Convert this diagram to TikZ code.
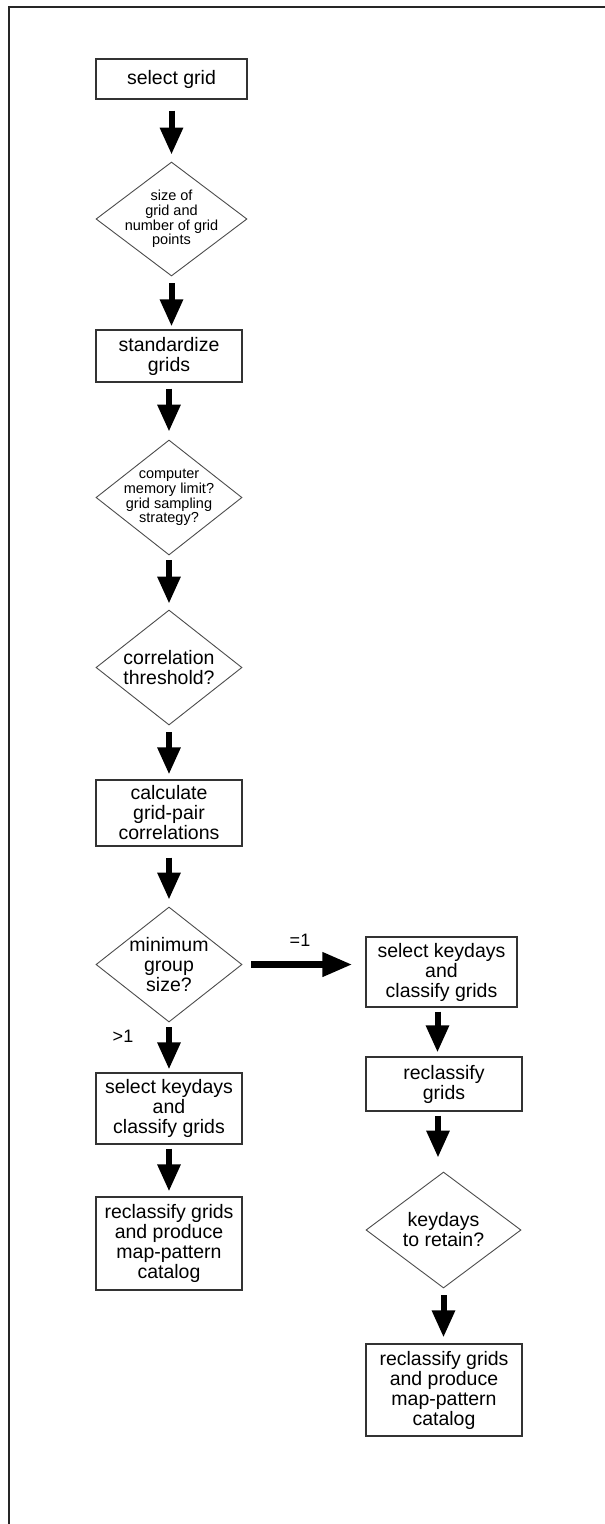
\documentclass[tikz,border=0pt]{standalone}
\usepackage{fontspec}
\setmainfont{Liberation Sans}
\usetikzlibrary{shapes.geometric,arrows.meta}
\begin{document}
\begin{tikzpicture}[x=1pt,y=-1pt,
  box/.style={draw=black!80,line width=1.3pt,rectangle,inner sep=0pt,align=center,
    font=\fontsize{19.5}{20}\selectfont},
  dia/.style={draw=black!70,line width=0.9pt,diamond,inner sep=0pt},
  dtxt/.style={font=\fontsize{19.5}{20}\selectfont,align=center},
  dsmall/.style={font=\fontsize{14.5}{14.8}\selectfont,align=center},
  bigarrow/.style={line width=6pt,-{Triangle[length=27pt,width=22pt]}},
  harrow/.style={line width=7pt,-{Triangle[length=30pt,width=23pt]}},
  lab/.style={font=\fontsize{18}{18}\selectfont,inner sep=0pt}]
\useasboundingbox (0,0) rectangle (605,1524);
\fill[white] (0,0) rectangle (605,1524);
% frame
\draw[line width=2pt,black!85] (8.5,1524) -- (8.5,7) -- (605,7);
% left column
\node[box,minimum width=151pt,minimum height=40pt] (s1) at (171.5,79) {select grid};
\node[dia,minimum width=151pt,minimum height=114pt,
  label={[dsmall]center:size of\\grid and\\number of grid\\points}] (d1) at (171.5,219) {};
\node[box,minimum width=146pt,minimum height=52pt] (s2) at (169,356) {standardize\\grids};
\node[dia,minimum width=146pt,minimum height=115pt,
  label={[dsmall]center:computer\\memory limit?\\grid sampling\\strategy?}] (d2) at (169,497.5) {};
\node[dia,minimum width=146pt,minimum height=115pt,
  label={[dtxt]center:correlation\\threshold?}] (d3) at (169,667.5) {};
\node[box,minimum width=146pt,minimum height=66pt] (s3) at (169,813) {calculate\\grid-pair\\correlations};
\node[dia,minimum width=146pt,minimum height=115pt,
  label={[dtxt]center:minimum\\group\\size?}] (d4) at (169,964.5) {};
\node[box,minimum width=146pt,minimum height=71pt] (s4) at (169,1108.5) {select keydays\\and\\classify grids};
\node[box,minimum width=146pt,minimum height=93pt] (s5) at (169,1243.5) {reclassify grids\\and produce\\map-pattern\\catalog};
% right column
\node[box,minimum width=151pt,minimum height=70pt] (r1) at (441.5,972) {select keydays\\and\\classify grids};
\node[box,minimum width=156pt,minimum height=54pt] (r2) at (444,1084) {reclassify\\grids};
\node[dia,minimum width=155pt,minimum height=116pt,
  label={[dtxt]center:keydays\\to retain?}] (rd) at (443.5,1230) {};
\node[box,minimum width=156pt,minimum height=92pt] (r3) at (444,1390) {reclassify grids\\and produce\\map-pattern\\catalog};
% labels
\node[lab] (eq1) at (300,940) {=1};
\node[lab] (gt1) at (123,1036) {>1};
% arrows
\draw[bigarrow,shorten <=11pt,shorten >=7pt] (s1.south) -- (s1.south |- d1.north);
\draw[bigarrow,shorten <=7pt,shorten >=3pt] (d1.south) -- (d1.south |- s2.north);
\draw[bigarrow,shorten <=6pt,shorten >=8pt] (s2.south) -- (s2.south |- d2.north);
\draw[bigarrow,shorten <=5pt,shorten >=6pt] (d2.south) -- (d2.south |- d3.north);
\draw[bigarrow,shorten <=7pt,shorten >=5pt] (d3.south) -- (d3.south |- s3.north);
\draw[bigarrow,shorten <=11pt,shorten >=7pt] (s3.south) -- (s3.south |- d4.north);
\draw[bigarrow,shorten <=5pt,shorten >=3pt] (d4.south) -- (d4.south |- s4.north);
\draw[bigarrow,shorten <=4pt,shorten >=5pt] (s4.south) -- (s4.south |- s5.north);
\draw[harrow,shorten <=9pt,shorten >=13pt] (d4.east) -- (d4.east -| r1.west);
\draw[bigarrow,shorten <=4pt,shorten >=4pt] ([xshift=-4pt]r1.south) -- ([xshift=-4pt]r1.south |- r2.north);
\draw[bigarrow,shorten <=4pt,shorten >=14pt] ([xshift=-6pt]r2.south) -- ([xshift=-6pt]r2.south |- rd.north);
\draw[bigarrow,shorten <=7pt,shorten >=6pt] (rd.south) -- (rd.south |- r3.north);
\end{tikzpicture}
\end{document}
